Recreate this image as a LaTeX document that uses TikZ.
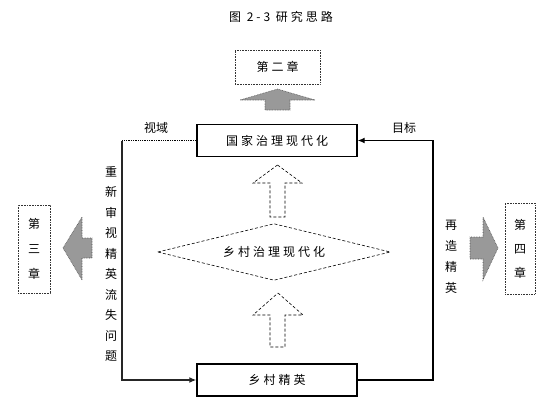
\documentclass[tikz,border=0pt]{standalone}
\usepackage{fontspec}
\setmainfont{Noto Sans CJK SC}
\newfontfamily\cjksp[LetterSpace=25]{Noto Sans CJK SC}
\usetikzlibrary{shapes.geometric,arrows.meta}
\tikzset{
  mainbox/.style={draw=black, line width=1.4pt, minimum width=160pt, minimum height=32pt, inner sep=0pt, font=\cjksp\fontsize{12}{14}\selectfont},
  dotbox/.style={draw=black!80, densely dotted, line width=0.6pt, inner sep=0pt, align=center, font=\fontsize{12}{14}\selectfont},
  conn/.style={line width=1.3pt, -{Latex[length=7pt,width=6pt]}},
  greyarrow/.style={fill=black!40, draw=black!70, densely dotted, line width=0.6pt},
  dasharrow/.style={draw=black, dash pattern=on 3pt off 2pt, line width=0.6pt},
  lbl/.style={font=\fontsize{12}{14}\selectfont, inner sep=0pt},
  vlbl/.style={font=\fontsize{12}{20.5}\selectfont, align=center, inner sep=0pt}
}
\begin{document}
\begin{tikzpicture}[x=1pt,y=-1pt]
\useasboundingbox (0,0) rectangle (546,408);
\node[lbl, font=\cjksp\fontsize{12}{14}\selectfont] (title) at (281,17) {图 2-3 研究思路};
% boxes
\node[mainbox] (gj) at (277,140.5) {国家治理现代化};
\node[mainbox] (xc) at (277,380) {乡村精英};
\node[dotbox, minimum width=85pt, minimum height=34pt, font=\cjksp\fontsize{12}{14}\selectfont] (c2) at (277.5,67) {第二章};
\node[dotbox, minimum width=32pt, minimum height=88pt, font=\fontsize{12}{25}\selectfont] (c3) at (34,249) {第\\三\\章};
\node[dotbox, minimum width=30pt, minimum height=91pt, font=\fontsize{12}{24}\selectfont] (c4) at (520,248.5) {第\\四\\章};
\node[minimum width=232pt, minimum height=56pt, inner sep=0pt, font=\cjksp\fontsize{12}{14}\selectfont] (dm) at (274,252) {乡村治理现代化};
\draw[dasharrow] (dm.west) -- (dm.north) -- (dm.east) -- (dm.south) -- cycle;
% connectors
\coordinate (lt) at (122,140.5);
\coordinate (rt) at (433,140.5);
\draw[densely dotted, line width=1.3pt] (gj.west) -- (lt);
\draw[conn, draw=black!85] (lt) |- (xc.west);
\draw[conn] (xc.east) -| (rt) -- (gj.east);
% labels
\node[lbl] (shiyu) at (156,128) {视域};
\node[lbl] (mubiao) at (404,128) {目标};
\node[vlbl] (vl) at (111,264) {重\\新\\审\\视\\精\\英\\流\\失\\问\\题};
\node[vlbl, font=\fontsize{12}{21}\selectfont] (vr) at (451,256.5) {再\\造\\精\\英};
% grey block arrows
\draw[greyarrow] (277.5,89) -- (315,100) -- (290,100) -- (290,110) -- (265,110) -- (265,100) -- (240,100) -- cycle;
\draw[greyarrow] (63,248) -- (82,217) -- (82,238) -- (92,238) -- (92,258) -- (82,258) -- (82,280) -- cycle;
\draw[greyarrow] (498,248) -- (483,217) -- (483,237) -- (470,237) -- (470,259) -- (483,259) -- (483,280) -- cycle;
% dashed block arrows
\draw[dasharrow] (277.5,165) -- (302,183) -- (285,183) -- (285,217) -- (270,217) -- (270,183) -- (253,183) -- cycle;
\draw[dasharrow] (278,293) -- (303,315) -- (285,315) -- (285,347) -- (270,347) -- (270,315) -- (253,315) -- cycle;
\end{tikzpicture}
\end{document}
